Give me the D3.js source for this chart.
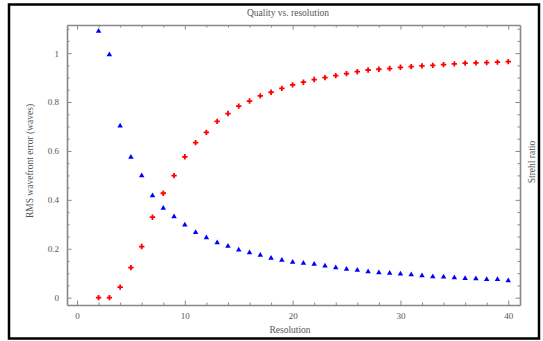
<!DOCTYPE html>
<html>
<head>
<meta charset="utf-8">
<script src="https://cdn.jsdelivr.net/npm/d3@7"></script>
<style>
  body { margin: 0; background: #fff; }
  svg { display: block; }
  .axis text { font-family: "Liberation Serif", "DejaVu Serif", serif; font-size: 9px; fill: #555; }
  .axis path, .axis line { stroke: #888; }
  .lbl { font-family: "Liberation Serif", "DejaVu Serif", serif; font-size: 9.5px; fill: #555; }
</style>
</head>
<body>
<div id="app"></div>
<script>
// resolution values (x)
const resolution = d3.range(2, 41);
// RMS wavefront error (blue triangles)
const rmsError = [1.09, 0.994, 0.702, 0.575, 0.499, 0.417, 0.366, 0.331, 0.297, 0.267,
  0.245, 0.225, 0.211, 0.195, 0.184, 0.174, 0.162, 0.153, 0.145, 0.141,
  0.137, 0.130, 0.123, 0.117, 0.112, 0.106, 0.102, 0.100, 0.097, 0.094,
  0.090, 0.086, 0.085, 0.082, 0.079, 0.078, 0.075, 0.075, 0.070];
// Strehl ratio (red crosses)
const strehl = [0.0, 0.0, 0.043, 0.123, 0.209, 0.329, 0.427, 0.499, 0.576, 0.634,
  0.676, 0.721, 0.753, 0.783, 0.804, 0.825, 0.840, 0.856, 0.870, 0.881,
  0.892, 0.900, 0.908, 0.916, 0.924, 0.931, 0.934, 0.937, 0.942, 0.945,
  0.948, 0.950, 0.953, 0.956, 0.959, 0.960, 0.961, 0.963, 0.965];
const xTicks = [0, 10, 20, 30, 40];
const yTicks = [0, 0.2, 0.4, 0.6, 0.8, 1];

const W = 543, H = 341;
const PLOT = { LEFT: 67, RIGHT: 520, TOP: 25, BOTTOM: 305 };

const svg = d3.select("#app").append("svg").attr("width", W).attr("height", H);

// outer black frame
svg.append("rect")
  .attr("x", 9).attr("y", 4.5).attr("width", 530).attr("height", 334)
  .attr("fill", "none").attr("stroke", "#000").attr("stroke-width", 2.5);

const x = d3.scaleLinear().domain([-0.93, 41.09]).range([PLOT.LEFT, PLOT.RIGHT]);
const y = d3.scaleLinear().domain([-0.03, 1.115]).range([PLOT.BOTTOM, PLOT.TOP]);

const xMinor = d3.range(-0, 42, 2).filter(v => v % 10 !== 0);
const yMinor = d3.range(0, 1.11, 0.05).filter(v => Math.abs(v * 5 - Math.round(v * 5)) > 1e-6);

function drawAxis(axisFn, scale, major, minor, transform, labels) {
  const g = svg.append("g").attr("class", "axis").attr("transform", transform);
  g.call(axisFn(scale).tickValues(major).tickSizeInner(-4.5).tickSizeOuter(0).tickPadding(8)
    .tickFormat(labels ? d3.format("") : ""));
  g.append("g").call(axisFn(scale).tickValues(minor).tickSizeInner(-2.5).tickSizeOuter(0).tickFormat(""))
    .select(".domain").remove();
  g.selectAll(".domain").attr("stroke-width", 1.6);
  return g;
}

drawAxis(d3.axisBottom, x, xTicks, xMinor, `translate(0,${PLOT.BOTTOM})`, true);
drawAxis(d3.axisTop, x, xTicks, xMinor, `translate(0,${PLOT.TOP})`, false);
drawAxis(d3.axisLeft, y, yTicks, yMinor, `translate(${PLOT.LEFT},0)`, true);
drawAxis(d3.axisRight, y, yTicks, yMinor, `translate(${PLOT.RIGHT},0)`, false);

// data points
svg.append("g").selectAll("path")
  .data(resolution)
  .enter()
  .append("path")
  .attr("d", d3.symbol().type(d3.symbolCross).size(16))
  .attr("transform", (d, i) => `translate(${x(d)},${y(strehl[i])})`)
  .attr("fill", "#ff0000");

svg.append("g").selectAll("path")
  .data(resolution)
  .enter()
  .append("path")
  .attr("d", d3.symbol().type(d3.symbolTriangle).size(13))
  .attr("transform", (d, i) => `translate(${x(d)},${y(rmsError[i])})`)
  .attr("fill", "#0000ff");

// labels
svg.append("text").attr("class", "lbl").attr("x", 288).attr("y", 16)
  .attr("text-anchor", "middle").text("Quality vs. resolution");
svg.append("text").attr("class", "lbl").attr("x", 290).attr("y", 333)
  .attr("text-anchor", "middle").text("Resolution");
svg.append("text").attr("class", "lbl")
  .attr("transform", `translate(33,${(PLOT.TOP + PLOT.BOTTOM) / 2 - 4}) rotate(-90)`)
  .attr("text-anchor", "middle").text("RMS wavefront error (waves)");
svg.append("text").attr("class", "lbl")
  .attr("transform", `translate(535,${(PLOT.TOP + PLOT.BOTTOM) / 2 - 3}) rotate(-90)`)
  .attr("text-anchor", "middle").text("Strehl ratio");
</script>
</body>
</html>
